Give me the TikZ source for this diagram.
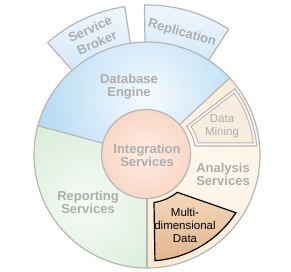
\documentclass[tikz,border=0pt]{standalone}
\usepackage{fontspec}
\setmainfont{Liberation Sans}
\definecolor{lineg}{HTML}{B6B6B6}
\definecolor{txtg}{HTML}{ADADAD}
\definecolor{blueE}{HTML}{A4D2F1}
\definecolor{blueI}{HTML}{F6FBFE}
\definecolor{greenE}{HTML}{C9E5C9}
\definecolor{greenI}{HTML}{F6FBF6}
\definecolor{orangeE}{HTML}{FCE4C6}
\definecolor{orangeI}{HTML}{FFF9F1}
\definecolor{pinkE}{HTML}{F5BFA2}
\definecolor{pinkI}{HTML}{FDEEE6}
\definecolor{tabA}{HTML}{D2E7F8}
\definecolor{tabB}{HTML}{EEF6FC}
\definecolor{dmBand}{HTML}{FFF8EF}
\definecolor{dmIn}{HTML}{F8ECDF}
\definecolor{mdA}{HTML}{F4D8BA}
\definecolor{mdB}{HTML}{E2B68E}
\tikzset{
  outl/.style={draw=lineg, line width=1.2pt},
  lbl/.style={text=txtg, align=center, inner sep=0pt, font=\fontsize{13}{13}\selectfont\bfseries},
  tablbl/.style={text=txtg, inner sep=0pt, font=\fontsize{13}{13}\selectfont\bfseries},
  plain/.style={align=center, inner sep=0pt, font=\fontsize{11.5}{13}\selectfont},
}
\begin{document}
\begin{tikzpicture}[x=1pt,y=1pt]
\useasboundingbox (-147,-117) rectangle (144,155);
% tabs
\path[outl, top color=tabB, bottom color=tabA]
  (98.5:100) -- (98.5:150) arc[start angle=98.5,end angle=131.5,radius=150] -- (131.5:100) arc[start angle=131.5,end angle=98.5,radius=100] -- cycle;
\path[outl, top color=tabB, bottom color=tabA]
  (57:100) -- (57:150) arc[start angle=57,end angle=91,radius=150] -- (91:100) arc[start angle=91,end angle=57,radius=100] -- cycle;
% sectors
\begin{scope}
  \clip (0,0) -- (43:113) arc[start angle=43,end angle=165,radius=113] -- cycle;
  \fill[blueE] (0,0) circle (113);
  \shade[inner color=blueI, outer color=blueE] (0,58) circle (135);
\end{scope}
\begin{scope}
  \clip (0,0) -- (165:113) arc[start angle=165,end angle=270,radius=113] -- cycle;
  \fill[greenE] (0,0) circle (113);
  \shade[inner color=greenI, outer color=greenE] (-58,-48) circle (145);
\end{scope}
\begin{scope}
  \clip (0,0) -- (270:113) arc[start angle=270,end angle=403,radius=113] -- cycle;
  \fill[orangeE] (0,0) circle (113);
  \shade[inner color=orangeI, outer color=orangeE] (72,-15) circle (150);
\end{scope}
\draw[outl] (43:40) -- (43:113);
\draw[outl] (165:40) -- (165:113);
\draw[outl] (270:40) -- (270:113);
\draw[outl] (0,0) circle (113);
% data mining
\path[draw=lineg, line width=1.1pt, fill=dmBand]
  (36:49) -- (37:110) arc[start angle=37,end angle=4.7,radius=110] -- (10.6:49) arc[start angle=10.6,end angle=36,radius=49] -- cycle;
\path[draw=lineg, line width=0.9pt, fill=dmIn]
  (33:52.5) -- (35.4:107) arc[start angle=35.4,end angle=6.5,radius=107] -- (13.3:52.5) arc[start angle=13.3,end angle=33,radius=52.5] -- cycle;
% multidimensional data
\path[draw=black, line width=1.2pt, top color=mdA, bottom color=mdB]
  (-81.6:48) arc[start angle=-81.6,end angle=-51,radius=48] -- (-33:106) arc[start angle=-33,end angle=-85.7,radius=106] -- cycle;
% integration circle
\begin{scope}
  \clip (-1,1) circle (44.5);
  \fill[pinkE] (-1,1) circle (44.5);
  \shade[inner color=pinkI, outer color=pinkE] (-1,1) circle (92);
\end{scope}
\draw[outl] (-1,1) circle (44.5);
% labels
\node[lbl] (de) at (-18,68.5) {Database\\Engine};
\node[lbl] (is) at (0,-0.5) {Integration\\Services};
\node[lbl] (as) at (76,-19) {Analysis\\Services};
\node[lbl] (rs) at (-59,-47.5) {Reporting\\Services};
\node[tablbl, rotate=24] (sb1) at (-57,126) {Service};
\node[tablbl, rotate=24] (sb2) at (-50,112.5) {Broker};
\node[tablbl, rotate=-16] (rp) at (35,122) {Replication};
\node[plain, text=txtg] (dm) at (75,28.5) {Data\\Mining};
\node[plain] (md) at (38,-70) {Multi-\\dimensional\\Data};
\end{tikzpicture}
\end{document}
